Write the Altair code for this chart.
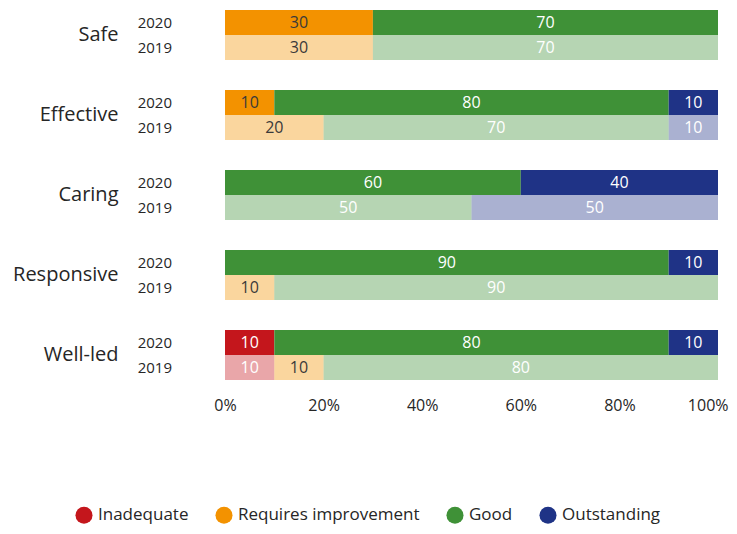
import altair as alt
import pandas as pd

categories = ["Safe", "Effective", "Caring", "Responsive", "Well-led"]
years = ["2020", "2019"]
ratings = ["Inadequate", "Requires improvement", "Good", "Outstanding"]
colors = ["#C4161C", "#F39200", "#3F9137", "#1F3386"]

# values per category/year in rating order: Inadequate, Requires improvement, Good, Outstanding
values = {
    ("Safe", "2020"): [0, 30, 70, 0],
    ("Safe", "2019"): [0, 30, 70, 0],
    ("Effective", "2020"): [0, 10, 80, 10],
    ("Effective", "2019"): [0, 20, 70, 10],
    ("Caring", "2020"): [0, 0, 60, 40],
    ("Caring", "2019"): [0, 0, 50, 50],
    ("Responsive", "2020"): [0, 0, 90, 10],
    ("Responsive", "2019"): [0, 10, 90, 0],
    ("Well-led", "2020"): [10, 0, 80, 10],
    ("Well-led", "2019"): [10, 10, 80, 0],
}
x_ticks = [0, 20, 40, 60, 80, 100]

rows = []
for (cat, yr), vals in values.items():
    for i, (r, v) in enumerate(zip(ratings, vals)):
        if v > 0:
            rows.append({"category": cat, "year": yr, "rating": r, "rank": i, "value": v})
df = pd.DataFrame(rows)

FONT = "Open Sans"
TXT = "#262626"

base = alt.Chart(df).transform_stack(
    stack="value", as_=["x0", "x1"], groupby=["category", "year"],
    sort=[alt.SortField("rank", order="ascending")]
).transform_calculate(mid="(datum.x0 + datum.x1) / 2")

y_enc = alt.Y("category:N", sort=categories,
              scale=alt.Scale(domain=categories, paddingInner=0.375, paddingOuter=0),
              axis=alt.Axis(title=None, domain=False, ticks=False, labelFontSize=20,
                            labelPadding=107, labelColor=TXT, labelFont=FONT))
yoff = alt.YOffset("year:N", sort=years,
                   scale=alt.Scale(domain=years, paddingInner=0, paddingOuter=0))
x_scale = alt.Scale(domain=[0, 100], nice=False)

bars = base.mark_bar(strokeWidth=0).encode(
    y=y_enc,
    yOffset=yoff,
    x=alt.X("x0:Q", scale=x_scale,
            axis=alt.Axis(title=None, values=x_ticks, labelExpr="datum.value + '%'",
                          domain=False, ticks=False, grid=False, labelFontSize=16,
                          labelPadding=17, labelColor=TXT, labelFont=FONT,
                          labelFlush=False,
                          labelAlign=alt.condition("datum.value == 100",
                                                   alt.value("right"), alt.value("center")),
                          labelOffset=alt.condition("datum.value == 100",
                                                    alt.value(10), alt.value(0)))),
    x2="x1:Q",
    color=alt.Color("rating:N", sort=ratings,
                    scale=alt.Scale(domain=ratings, range=colors),
                    legend=alt.Legend(title=None, orient="none", direction="horizontal",
                                      legendX=-150, legendY=496, symbolType="circle",
                                      symbolSize=290, symbolStrokeWidth=0,
                                      labelFontSize=17, labelColor=TXT, labelFont=FONT,
                                      labelLimit=300, columnPadding=26, labelOffset=5)),
    opacity=alt.Opacity("year:N", scale=alt.Scale(domain=years, range=[1, 0.38]), legend=None),
)

labels = base.mark_text(fontSize=16, font=FONT).encode(
    y=alt.Y("category:N", sort=categories),
    yOffset=alt.YOffset("year:N", sort=years),
    x=alt.X("mid:Q", scale=x_scale),
    text=alt.Text("value:Q"),
    color=alt.condition(alt.datum.rating == "Requires improvement",
                        alt.value("#3a3a3a"), alt.value("white")),
)

year_df = pd.DataFrame([{"category": c, "year": y} for c in categories for y in years])
year_text = alt.Chart(year_df).mark_text(align="right", fontSize=15, font=FONT, color=TXT).encode(
    y=alt.Y("category:N", sort=categories),
    yOffset=alt.YOffset("year:N", sort=years),
    x=alt.value(-53),
    text="year:N",
)

chart = alt.layer(bars, labels, year_text).properties(
    width=493, height=370,
    padding={"left": 217, "top": 2, "right": 11, "bottom": 146},
    autosize=alt.AutoSizeParams(type="none"),
).configure_view(stroke=None)

chart.save("out.html", embed_options={"renderer": "svg", "actions": False})
